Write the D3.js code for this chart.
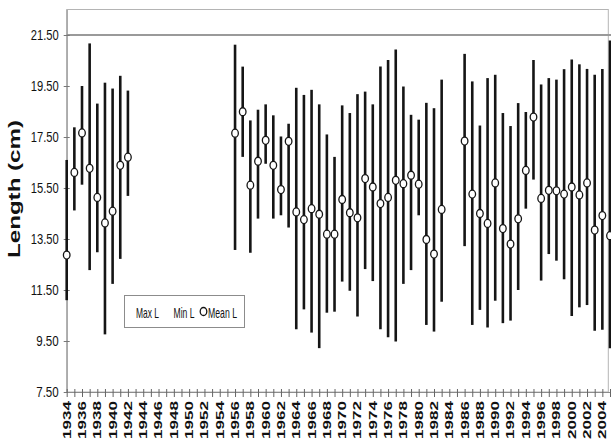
<!DOCTYPE html>
<html>
<head>
<meta charset="utf-8">
<script src="https://cdn.jsdelivr.net/npm/d3@7"></script>
<style>
  body { margin: 0; background: #fff; }
  svg { display: block; }
</style>
</head>
<body>
<div id="chart"></div>
<script>
// yearly length summary (cm)
var years = [1934, 1935, 1936, 1937, 1938, 1939, 1940, 1941, 1942,
  1956, 1957, 1958, 1959, 1960, 1961, 1962, 1963, 1964, 1965, 1966, 1967,
  1968, 1969, 1970, 1971, 1972, 1973, 1974, 1975, 1976, 1977, 1978, 1979,
  1980, 1981, 1982, 1983,
  1986, 1987, 1988, 1989, 1990, 1991, 1992, 1993, 1994, 1995, 1996, 1997,
  1998, 1999, 2000, 2001, 2002, 2003, 2004, 2005];

var maxL = [16.60, 17.88, 19.50, 21.17, 18.81, 19.63, 19.40, 19.90, 19.32,
  21.12, 20.26, 18.15, 18.57, 18.78, 18.35, 17.52, 18.02, 19.43, 19.15, 19.35, 18.78,
  17.60, 16.72, 18.74, 18.44, 19.18, 19.28, 18.78, 20.26, 20.52, 20.93, 19.48, 18.37,
  18.18, 18.84, 18.63, 19.75,
  20.76, 19.68, 17.95, 19.81, 19.94, 18.44, 17.93, 18.83, 18.48, 20.52, 19.56, 19.81,
  19.75, 20.16, 20.54, 20.35, 20.17, 19.94, 20.17, 21.28];

var minL = [11.10, 14.62, 15.63, 12.28, 12.98, 9.76, 11.74, 12.72, 15.19,
  13.07, 16.72, 12.96, 14.30, 16.45, 14.30, 14.43, 13.95, 9.96, 10.74, 9.83, 9.22,
  10.61, 10.65, 11.83, 11.47, 10.46, 12.32, 11.85, 9.96, 9.65, 9.48, 11.74, 12.28,
  14.43, 10.13, 9.87, 11.04,
  13.22, 10.13, 10.72, 10.03, 11.08, 10.20, 10.30, 11.50, 14.69, 15.83, 11.87, 12.91,
  12.65, 11.92, 10.48, 10.82, 10.91, 9.90, 9.94, 9.22];

var meanL = [12.87, 16.11, 17.66, 16.27, 15.13, 14.13, 14.59, 16.39, 16.71,
  17.65, 18.49, 15.61, 16.55, 17.37, 16.39, 15.44, 17.33, 14.56, 14.26, 14.69, 14.47,
  13.69, 13.69, 15.05, 14.53, 14.33, 15.87, 15.54, 14.89, 15.13, 15.80, 15.67, 16.00,
  15.65, 13.48, 12.91, 14.66,
  17.34, 15.26, 14.50, 14.11, 15.70, 13.91, 13.30, 14.29, 16.19, 18.28, 15.09, 15.41,
  15.39, 15.26, 15.54, 15.23, 15.70, 13.85, 14.42, 13.63];

var yTicks = [7.5, 9.5, 11.5, 13.5, 15.5, 17.5, 19.5, 21.5];
var tickYears = d3.range(1934, 2006);
var labelYears = d3.range(1934, 2005, 2);
var legendLabels = ['Max L', 'Min L', 'Mean L'];

// sizes
var width = 611;
var height = 441;
var plotLeft = 66.7;
var plotRight = 608.3;
var plotTop = 9.5;
var plotBottom = 392;

var sans = '"Liberation Sans", Arial, sans-serif';

var data = years.map(function(d, i) {
  return { year: d, max: maxL[i], min: minL[i], mean: meanL[i] };
});

var x = d3.scaleLinear().domain([1934, 2005]).range([plotLeft, 610]);
var y = d3.scaleLinear().domain([7.5, 22.5]).range([plotBottom, plotTop]);

var svg = d3.select('#chart').append('svg')
  .attr('width', width)
  .attr('height', height);

// plot frame
svg.append('rect')
  .attr('x', plotLeft)
  .attr('y', plotTop)
  .attr('width', plotRight - plotLeft)
  .attr('height', plotBottom - plotTop)
  .attr('fill', 'none')
  .attr('stroke', '#b4b4b4')
  .attr('stroke-width', 1);

// the single line at the top tick
svg.append('line')
  .attr('x1', plotLeft)
  .attr('x2', width)
  .attr('y1', y(21.5))
  .attr('y2', y(21.5))
  .attr('stroke', '#9a9a9a')
  .attr('stroke-width', 2);

// y axis
var yAxis = svg.append('g')
  .attr('transform', 'translate(' + plotLeft + ',0)')
  .call(d3.axisLeft(y)
    .tickValues(yTicks)
    .tickFormat(d3.format('.2f'))
    .tickSize(3)
    .tickSizeOuter(0)
    .tickPadding(5));
yAxis.select('.domain').attr('stroke', '#8c8c8c');
yAxis.selectAll('.tick line').attr('x1', 3).attr('stroke', '#777');
// condensed look of the original labels
yAxis.selectAll('.tick text')
  .attr('fill', '#111')
  .attr('textLength', function(d) { return d >= 10 ? 28 : 22.5; })
  .attr('lengthAdjust', 'spacingAndGlyphs')
  .style('font-family', sans)
  .style('font-size', '14px');

// x axis, one tick per year, crossing the line
var xAxis = svg.append('g')
  .attr('transform', 'translate(0,' + plotBottom + ')')
  .call(d3.axisBottom(x)
    .tickValues(tickYears)
    .tickFormat('')
    .tickSize(5)
    .tickSizeOuter(0));
xAxis.select('.domain').attr('stroke', '#8c8c8c');
xAxis.selectAll('.tick line').attr('y1', -3).attr('stroke', '#666');

svg.append('g').selectAll('text')
  .data(labelYears)
  .join('text')
  .attr('transform', function(d) {
    return 'translate(' + x(d) + ',401) rotate(-90)';
  })
  .attr('dy', '0.36em')
  .attr('text-anchor', 'end')
  .attr('textLength', 38)
  .attr('lengthAdjust', 'spacingAndGlyphs')
  .attr('fill', '#111')
  .style('font', 'bold 11px ' + sans)
  .text(function(d) { return d; });

// axis title
svg.append('text')
  .attr('transform', 'translate(20,189) rotate(-90)')
  .attr('text-anchor', 'middle')
  .attr('textLength', 138)
  .attr('lengthAdjust', 'spacingAndGlyphs')
  .attr('fill', '#111')
  .style('font', 'bold 16px ' + sans)
  .text('Length (cm)');

// high-low bars
svg.append('g').selectAll('line')
  .data(data)
  .join('line')
  .attr('x1', function(d) { return x(d.year); })
  .attr('x2', function(d) { return x(d.year); })
  .attr('y1', function(d) { return y(d.max); })
  .attr('y2', function(d) { return y(d.min); })
  .attr('stroke', '#151515')
  .attr('stroke-width', 2.6);

// mean markers
svg.append('g').selectAll('ellipse')
  .data(data)
  .join('ellipse')
  .attr('cx', function(d) { return x(d.year); })
  .attr('cy', function(d) { return y(d.mean); })
  .attr('rx', 3.3)
  .attr('ry', 4)
  .attr('fill', '#fff')
  .attr('stroke', '#151515')
  .attr('stroke-width', 1.3);

// legend
var legend = svg.append('g');
legend.append('rect')
  .attr('x', 124.5)
  .attr('y', 295.5)
  .attr('width', 120)
  .attr('height', 32)
  .attr('fill', '#fff')
  .attr('stroke', '#8c8c8c');

var legendX = [136, 173.5, 208];
var legendW = [23, 21, 29];
legend.selectAll('text')
  .data(legendLabels)
  .join('text')
  .attr('x', function(d, i) { return legendX[i]; })
  .attr('y', 317.5)
  .attr('textLength', function(d, i) { return legendW[i]; })
  .attr('lengthAdjust', 'spacingAndGlyphs')
  .attr('fill', '#111')
  .style('font-family', sans)
  .style('font-size', '15px')
  .text(function(d) { return d; });

legend.append('ellipse')
  .attr('cx', 203.5)
  .attr('cy', 311.5)
  .attr('rx', 3.3)
  .attr('ry', 4)
  .attr('fill', '#fff')
  .attr('stroke', '#151515')
  .attr('stroke-width', 1.3);
</script>
</body>
</html>
